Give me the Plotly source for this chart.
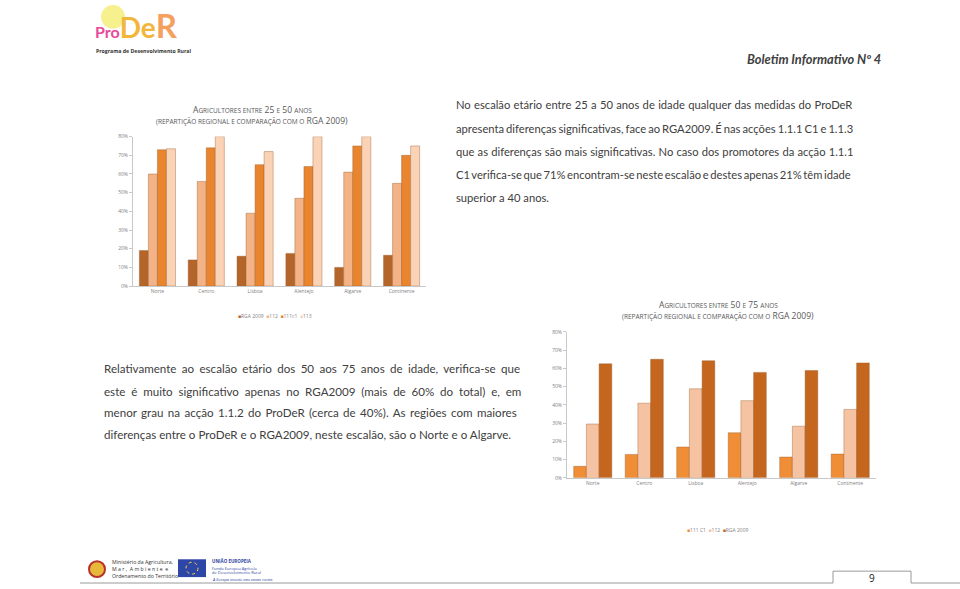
import plotly.graph_objects as go

W, H = 960, 589

regions = ["Norte", "Centro", "Lisboa", "Alentejo", "Algarve", "Continente"]
# Chart 1: agricultores entre 25 e 50 anos (%)
c1_rga2009 = [19, 14, 16, 17.5, 10, 16.5]
c1_112 = [60, 56, 39, 47, 61, 55]
c1_111c1 = [73, 74, 65, 64, 75, 70]
c1_113 = [73.5, 80, 72, 80, 80, 75]
# Chart 2: agricultores entre 50 e 75 anos (%)
c2_111c1 = [6.3, 12.8, 16.9, 24.7, 11.4, 13]
c2_112 = [29.5, 40.9, 48.8, 42.3, 28.3, 37.5]
c2_rga2009 = [62.5, 65, 64.2, 57.8, 58.8, 63]

para1 = [
    "No escalão etário entre 25 a 50 anos de idade qualquer das medidas do ProDeR",
    "apresenta diferenças significativas, face ao RGA2009. É nas acções 1.1.1 C1 e 1.1.3",
    "que as diferenças são mais significativas. No caso dos promotores da acção 1.1.1",
    "C1 verifica-se que 71% encontram-se neste escalão e destes apenas 21% têm idade",
    "superior a 40 anos.",
]
para2 = [
    "Relativamente ao escalão etário dos 50 aos 75 anos de idade, verifica-se que",
    "este é muito significativo apenas no RGA2009 (mais de 60% do total) e, em",
    "menor grau na acção 1.1.2 do ProDeR (cerca de 40%). As regiões com maiores",
    "diferenças entre o ProDeR e o RGA2009, neste escalão, são o Norte e o Algarve.",
]

# layout helpers for justified text (natural widths measured at Lato 12px)
p1_nat12 = [418, 436, 421, 441, None]
p2_nat12 = [401, 392, 411, None]


def px(x):
    return x / W


def py(y):
    return 1 - y / H


col = dict(rga1="#B4662A", s112="#F3B386", s111="#E9852F", s113="#FAD3B6",
           c2_111="#EF8E36", c2_112="#F6C3A2", c2_rga="#C4661E")

fig = go.Figure()


def pct(v):
    return [a / 100 for a in v]


for name, vals, c in [("RGA 2009", c1_rga2009, col["rga1"]), ("112", c1_112, col["s112"]),
                      ("111c1", c1_111c1, col["s111"]), ("113", c1_113, col["s113"])]:
    fig.add_trace(go.Bar(x=regions, y=pct(vals), name=name,
                         marker=dict(color=c, line=dict(color="#9a5a2a", width=0.4)),
                         xaxis="x", yaxis="y", showlegend=False))

for name, vals, c in [("111 C1", c2_111c1, col["c2_111"]), ("112", c2_112, col["c2_112"]),
                      ("RGA 2009", c2_rga2009, col["c2_rga"])]:
    fig.add_trace(go.Bar(x=regions, y=pct(vals), name=name,
                         marker=dict(color=c, line=dict(color="#9a5a2a", width=0.4)),
                         xaxis="x2", yaxis="y2", showlegend=False))

tickfont = dict(family="Open Sans", size=5, color="#7f7f7f")
axis_common = dict(showgrid=False, zeroline=False, showline=True, linecolor="#c8c8c8", linewidth=1,
                   tickfont=tickfont, fixedrange=True)

fig.update_layout(
    width=W, height=589, margin=dict(l=0, r=0, t=0, b=0),
    paper_bgcolor="white", plot_bgcolor="rgba(0,0,0,0)",
    barmode="group",
    xaxis=dict(domain=[px(133), px(426)], anchor="y", ticks="", **axis_common),
    yaxis=dict(domain=[py(286), py(135)], anchor="x", range=[0, 0.8], dtick=0.1, tickformat=".0%",
               ticks="outside", ticklen=3, tickcolor="#c8c8c8", **axis_common),
    xaxis2=dict(domain=[px(567), px(876)], anchor="y2", ticks="", **axis_common),
    yaxis2=dict(domain=[py(479.7), py(332.3)], anchor="x2", range=[0, 0.8], dtick=0.1, tickformat=".0%",
                ticks="outside", ticklen=3, tickcolor="#c8c8c8", **axis_common),
    bargap=0.26, bargroupgap=0,
)

ann = []


def justified(lines, nat12, size, x0, target, ys):
    out = []
    for line, nat, y in zip(lines, nat12, ys):
        if nat is None:
            txt = line
        else:
            gaps = line.count(" ")
            ws = (target - nat * size / 12.0) / gaps
            txt = f"<span style='word-spacing:{ws:.2f}px'>{line}</span>"
        out.append(dict(x=px(x0), y=py(y), text=txt, xanchor="left", yanchor="middle",
                        font=dict(family="Lato", size=size, color="#404040")))
    return out


ann += justified(para1, p1_nat12, 11.2, 454, 397, [103, 127, 150, 173, 197])
ann += justified(para2, p2_nat12, 11.6, 102, 416, [369, 392, 414, 436])

S = "font-size:6.5px"
t1a = f"A<span style='{S}'>GRICULTORES ENTRE</span> 25 <span style='{S}'>E</span> 50 <span style='{S}'>ANOS</span>"
t2a = f"A<span style='{S}'>GRICULTORES ENTRE</span> 50 <span style='{S}'>E</span> 75 <span style='{S}'>ANOS</span>"
tb = f"<span style='{S}'>(REPARTIÇÃO REGIONAL E COMPARAÇÃO COM O</span> RGA 2009)"
tfont = dict(family="Open Sans", size=8.5, color="#595959")
ann += [
    dict(x=px(252), y=py(108), text=t1a, xanchor="center", yanchor="middle", font=tfont),
    dict(x=px(252), y=py(118.5), text=tb, xanchor="center", yanchor="middle", font=tfont),
    dict(x=px(718), y=py(305), text=t2a, xanchor="center", yanchor="middle", font=tfont),
    dict(x=px(718), y=py(316), text=tb, xanchor="center", yanchor="middle", font=tfont),
]

lf = dict(family="Open Sans", size=5, color="#7f7f7f")
leg1 = (f"<span style='color:{col['rga1']}'>■</span>RGA 2009  <span style='color:{col['s112']}'>■</span>112  "
        f"<span style='color:{col['s111']}'>■</span>111c1  <span style='color:{col['s113']}'>■</span>113")
leg2 = (f"<span style='color:{col['c2_111']}'>■</span>111 C1  <span style='color:{col['c2_112']}'>■</span>112  "
        f"<span style='color:{col['c2_rga']}'>■</span>RGA 2009")
ann += [
    dict(x=px(275), y=py(316), text=leg1, xanchor="center", yanchor="middle", font=lf),
    dict(x=px(718), y=py(532), text=leg2, xanchor="center", yanchor="middle", font=lf),
]

# header
logo = ("<b><span style='color:#E8499A'>Pro</span>"
        "<span style='color:#F2B63A;font-size:28px'>De</span>"
        "<span style='color:#F5A05E;font-size:33px'>R</span></b>")
ann += [
    dict(x=px(745), y=py(57), text="<b><i>Boletim Informativo Nº 4</i></b>", xanchor="left", yanchor="middle",
         font=dict(family="Lato", size=12.8, color="#404040")),
    dict(x=px(93), y=py(44.5), text=logo, xanchor="left", yanchor="bottom",
         font=dict(family="Lato", size=16, color="#E8499A")),
    dict(x=px(94), y=py(48), text="<b>Programa de Desenvolvimento Rural</b>", xanchor="left", yanchor="middle",
         font=dict(family="Open Sans", size=5.2, color="#333333")),
]

# footer
ff = dict(family="Open Sans", size=5.2, color="#333333")
ef = dict(family="Open Sans", size=4, color="#2B3F9E")
ann += [
    dict(x=px(110), y=py(565), text="Ministério da Agricultura,", xanchor="left", yanchor="middle", font=ff),
    dict(x=px(110), y=py(572), text="M a r ,  A m b i e n t e  e", xanchor="left", yanchor="middle", font=ff),
    dict(x=px(110), y=py(579), text="Ordenamento do Território", xanchor="left", yanchor="middle", font=ff),
    dict(x=px(210), y=py(564), text="<b>UNIÃO EUROPEIA</b>", xanchor="left", yanchor="middle",
         font=dict(family="Open Sans", size=4.5, color="#2B3F9E")),
    dict(x=px(210), y=py(571), text="Fundo Europeu Agrícola", xanchor="left", yanchor="middle", font=ef),
    dict(x=px(210), y=py(575.5), text="de Desenvolvimento Rural", xanchor="left", yanchor="middle", font=ef),
    dict(x=px(210), y=py(582), text="<i>A Europa investe nas zonas rurais</i>", xanchor="left", yanchor="middle",
         font=ef),
    dict(x=px(872), y=py(580.5), text="9", xanchor="center", yanchor="middle",
         font=dict(family="Open Sans", size=10, color="#222222")),
]
for a in ann:
    a.update(xref="paper", yref="paper", showarrow=False)
fig.update_layout(annotations=ann)

P = dict(xref="paper", yref="paper")
shapes = [
    dict(type="circle", x0=px(101), x1=px(125), y0=py(26), y1=py(2), fillcolor="#F6F08E",
         line=dict(width=0), layer="below", **P),
    dict(type="circle", x0=px(89), x1=px(105), y0=py(580), y1=py(564), fillcolor="#E8B83A",
         line=dict(color="#B8322A", width=2), **P),
    dict(type="rect", x0=px(178), x1=px(206), y0=py(580), y1=py(562), fillcolor="#2E46A8",
         line=dict(width=0), **P),
    dict(type="circle", x0=px(186), x1=px(198), y0=py(577), y1=py(565), fillcolor="rgba(0,0,0,0)",
         line=dict(color="#F2D43A", width=1, dash="dot"), **P),
    dict(type="path",
         path="M {} {} L {} {} L {} {} L {} {} L {} {} L {} {}".format(
             px(80), py(586), px(833), py(586), px(833), py(574), px(911), py(574),
             px(911), py(586), px(960), py(586)),
         line=dict(color="#9a9a9a", width=1), **P),
]
fig.update_layout(shapes=shapes)

fig.write_html("out.html")
